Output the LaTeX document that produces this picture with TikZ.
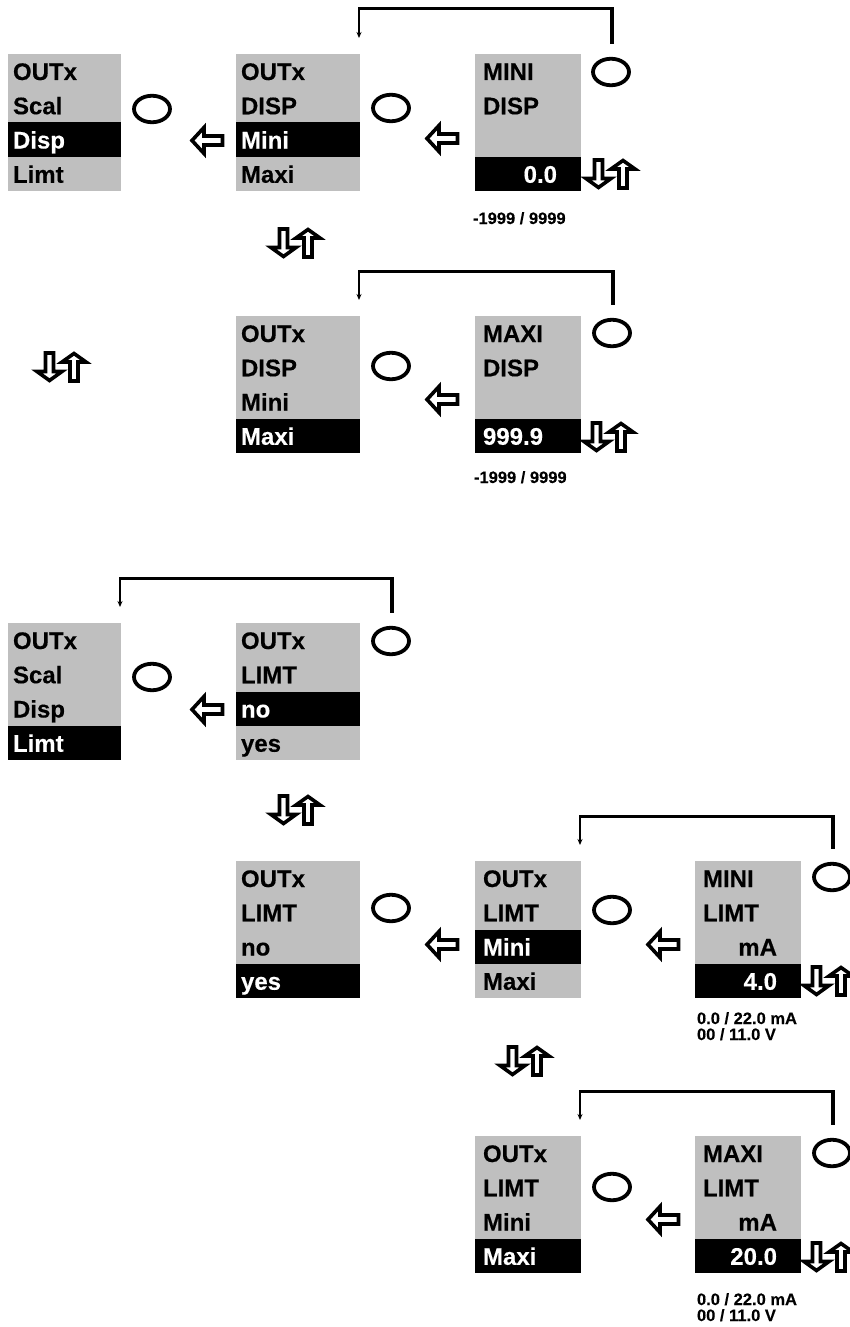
\documentclass[tikz,border=0pt]{standalone}
\usepackage{fontspec}
\setmainfont{Liberation Sans}[BoldFont={Liberation Sans Bold},BoldFeatures={FakeBold=0.3}]
\usetikzlibrary{shapes.geometric,calc,arrows.meta}
\definecolor{scrgray}{RGB}{191,191,191}
\newcommand{\ralign}[1]{\hfill#1}
\newcommand{\screen}[9]{%
  \pgfmathsetmacro\scrpad{#4<110?8:5}%
  \pgfmathsetmacro\scrtw{#4-\scrpad-24}%
  \node[scrbox,minimum width=#4pt,anchor=north west] (#1) at (#2,#3) {};
  \node[hlbar,minimum width=#4pt,anchor=north west] (#1h) at ({#2},{#3+34.25*(#5-1)}) {};
  \foreach \txt [count=\i] in {#6,#7,#8,#9}{%
    \ifnum\i=#5\relax\def\tcol{white}\else\def\tcol{black}\fi
    \node[scrtext,text=\tcol,anchor=base west] (#1t\i) at ({#2+\scrpad},{#3+34.25*(\i-1)+26}) {\hbox to \scrtw pt{\txt\hfil}};
  }%
}
\begin{document}
\begin{tikzpicture}[x=1pt,y=-1pt,
  scrbox/.style={fill=scrgray,minimum height=137pt,inner sep=0pt,outer sep=0pt},
  hlbar/.style={fill=black,minimum height=34.25pt,inner sep=0pt,outer sep=0pt},
  scrtext/.style={font=\bfseries\fontsize{24}{24}\selectfont,inner sep=0pt,outer sep=0pt},
  lbl/.style={font=\bfseries\fontsize{16.5}{16.5}\selectfont,inner sep=0pt,outer sep=0pt,anchor=base west},
  knob/.style={ellipse,draw=black,line width=3.8pt,minimum width=36pt,minimum height=26.5pt,inner sep=0pt},
  hollow/.style={draw=black,fill=white,line width=3.6pt,line join=miter,miter limit=4},
  brk/.style={line width=3pt,line join=miter,line cap=rect},
  brkv/.style={line width=4pt},
  brkarr/.style={line width=1.7pt,-{Stealth[length=6pt,width=5pt]}},
  updn/.pic={
    \draw[hollow] (10.5,3) -- (18.5,3) -- (18.5,21.5) -- (27,21.5) -- (14.5,30.5) -- (2,21.5) -- (10.5,21.5) -- cycle;
    \draw[hollow] (35,31) -- (43,31) -- (43,12) -- (51,12) -- (39,3.5) -- (27,12) -- (35,12) -- cycle;
  },
  larr/.pic={
    \draw[hollow] (3,16.5) -- (15,3.5) -- (15,12) -- (33.5,12) -- (33.5,21) -- (15,21) -- (15,29.5) -- cycle;
  }
]
\useasboundingbox (0,0) rectangle (850,1327);

% ---- screens
\screen{s1}{8}{54}{113}{3}{OUTx}{Scal}{Disp}{Limt}
\screen{s2}{236}{54}{124}{3}{OUTx}{DISP}{Mini}{Maxi}
\screen{s3}{475}{54}{106}{4}{MINI}{DISP}{\relax}{\ralign{0.0}}
\screen{s4}{236}{316}{124}{4}{OUTx}{DISP}{Mini}{Maxi}
\screen{s5}{475}{316}{106}{4}{MAXI}{DISP}{\relax}{999.9}
\screen{s6}{8}{623}{113}{4}{OUTx}{Scal}{Disp}{Limt}
\screen{s7}{236}{623}{124}{3}{OUTx}{LIMT}{no}{yes}
\screen{s8}{236}{861}{124}{4}{OUTx}{LIMT}{no}{yes}
\screen{s9}{475}{861}{106}{3}{OUTx}{LIMT}{Mini}{Maxi}
\screen{s10}{695}{861}{106}{4}{MINI}{LIMT}{\ralign{mA}}{\ralign{4.0}}
\screen{s11}{475}{1136}{106}{4}{OUTx}{LIMT}{Mini}{Maxi}
\screen{s12}{695}{1136}{106}{4}{MAXI}{LIMT}{\ralign{mA}}{\ralign{20.0}}

% ---- knobs
\node[knob] (c1) at (152,109) {};
\node[knob] (c2) at (391,108) {};
\node[knob] (c3) at (611,72) {};
\node[knob] (c4) at (391,366) {};
\node[knob] (c5) at (612,333) {};
\node[knob] (c6) at (152,677) {};
\node[knob] (c7) at (391,641) {};
\node[knob] (c8) at (391,908) {};
\node[knob] (c9) at (612,910) {};
\node[knob] (c10) at (832,877) {};
\node[knob] (c11) at (612,1187) {};
\node[knob] (c12) at (832,1153) {};

% ---- left arrows
\pic (a1) at (189,124) {larr};
\pic (a2) at (424,122) {larr};
\pic (a3) at (424,383) {larr};
\pic (a4) at (189,693) {larr};
\pic (a5) at (424,928) {larr};
\pic (a6) at (645,928) {larr};
\pic (a7) at (645,1203) {larr};

% ---- up/down arrows
\pic (g1) at (584,157) {updn};
\pic (g2) at (269,226) {updn};
\pic (g3) at (35,350) {updn};
\pic (g4) at (582,420) {updn};
\pic (g5) at (269,793) {updn};
\pic (g6) at (802,964) {updn};
\pic (g7) at (498,1044) {updn};
\pic (g8) at (802,1240) {updn};

% ---- range labels
\node[lbl] (r1) at (473,224) {-1999 / 9999};
\node[lbl] (r2) at (474,483) {-1999 / 9999};
\node[lbl] (r3a) at (697,1024) {0.0 / 22.0 mA};
\node[lbl] (r3b) at (697,1040) {00 / 11.0 V};
\node[lbl] (r4a) at (697,1305) {0.0 / 22.0 mA};
\node[lbl] (r4b) at (697,1321) {00 / 11.0 V};

% ---- return brackets
\foreach \kn/\src/\dst in {k1/c3/s2, k2/c5/s4, k3/c7/s6, k4/c10/s9, k5/c12/s11}{
  \coordinate (\kn r) at ($(\src.north)+(1,-13)$);
  \coordinate (\kn l) at ($(\dst.north east)+(-1,-16)$);
  \coordinate (\kn t) at ($(\kn l)+(0,-29)$);
  \draw[brkv] (\kn r) -- (\kn r |- \kn t);
  \draw[brk] (\kn r |- \kn t) -- (\kn t);
  \draw[brkarr] (\kn t) -- (\kn l);
}
\end{tikzpicture}
\end{document}
